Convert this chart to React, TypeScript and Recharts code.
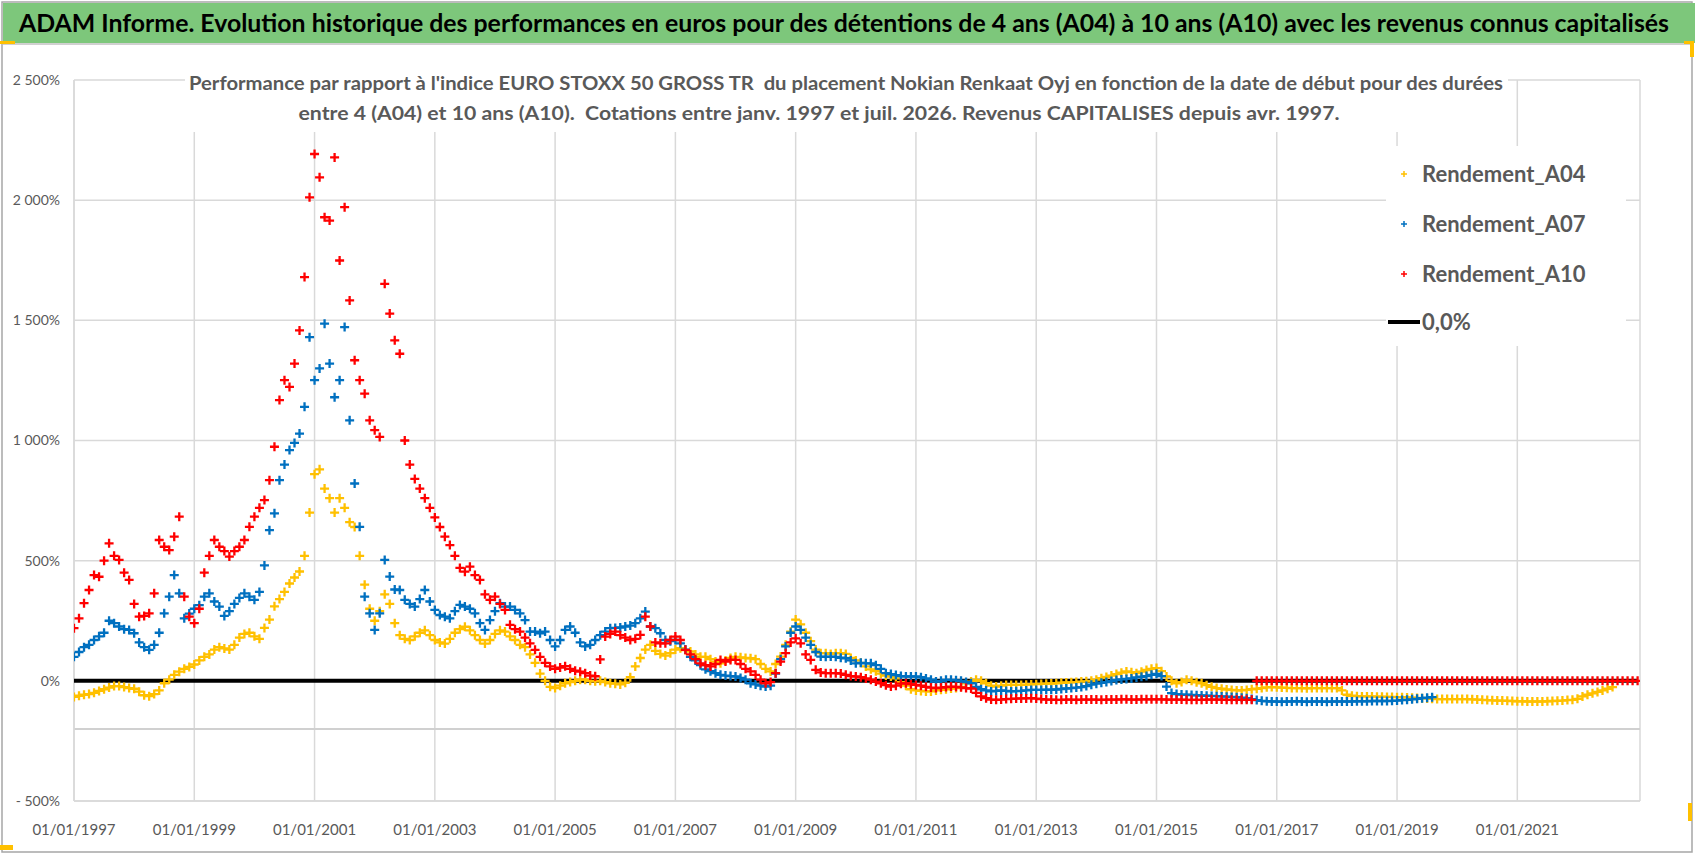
import { ScatterChart, Scatter, XAxis, YAxis, CartesianGrid, ReferenceLine } from 'recharts';

// monthly samples starting 01/1997, values in %
const START_YEAR = 1997;
const X_TICKS = [1997, 1999, 2001, 2003, 2005, 2007, 2009, 2011, 2013, 2015, 2017, 2019, 2021];
const Y_TICKS = [-500, 0, 500, 1000, 1500, 2000, 2500];

const A04 = [
  -67, -62, -58, -55, -50, -42, -35, -28, -22, -22, -26, -30, // 1997
  -33, -45, -60, -64, -55, -40, -10, 5, 25, 38, 50, 58,
  68, 85, 100, 110, 130, 140, 135, 130, 150, 180, 195, 200,
  185, 175, 220, 255, 310, 340, 370, 405, 430, 455, 520, 700, // 2000
  860, 880, 800, 760, 700, 760, 720, 660, 640, 520, 400, 300,
  250, 290, 360, 320, 240, 190, 175, 170, 185, 200, 210, 190,
  170, 160, 155, 175, 200, 215, 225, 210, 190, 170, 155, 170,
  195, 210, 205, 185, 170, 150, 140, 110, 75, 30, 0, -25,
  -30, -20, -10, -5, 0, 5, 5, 0, -2, 0, -5, -10, // 2005
  -12, -15, -8, 15, 60, 95, 130, 150, 125, 112, 105, 115,
  130, 136, 128, 122, 110, 100, 100, 90, 80, 73, 85, 95,
  100, 98, 95, 94, 90, 70, 50, 39, 70, 101, 150, 205,
  255, 235, 200, 165, 130, 115, 115, 112, 115, 115, 112, 95,
  85, 75, 60, 48, 40, 30, 22, 18, 10, -5, -20, -35, // 2010
  -40, -42, -44, -44, -40, -37, -35, -32, -30, -25, -10, -3,
  4, 0, -10, -20, -24, -20, -17, -17, -17, -17, -16, -15,
  -14, -13, -12, -11, -10, -8, -7, -6, -5, -3, -2, 0,
  5, 11, 16, 22, 28, 34, 39, 36, 32, 38, 45, 50,
  53, 40, 18, 0, -10, -5, 4, 0, -6, -10, -18, -25, // 2015
  -30, -33, -36, -38, -40, -40, -38, -35, -33, -30, -27, -26,
  -27, -28, -29, -30, -30, -30, -31, -30, -30, -30, -30, -30,
  -30, -40, -58, -62, -64, -65, -65, -65, -66, -66, -67, -67,
  -68, -68, -69, -70, -71, -72, -73, -75, -76, -76, -76, -76,
  -76, -76, -76, -77, -78, -79, -80, -81, -82, -82, -83, -84, // 2020
  -85, -85, -86, -86, -86, -86, -85, -84, -83, -82, -80, -79,
  -75, -65, -58, -52, -46, -40, -33, -26,
];

const A07 = [
  100, 120, 140, 150, 170, 185, 200, 250, 240, 226, 215, 212, // 1997
  198, 160, 140, 129, 150, 200, 281, 350, 440, 364, 260, 280,
  300, 315, 350, 364, 330, 309, 270, 290, 320, 345, 364, 350,
  337, 370, 480, 627, 697, 835, 900, 960, 990, 1029, 1140, 1430, // 2000
  1251, 1300, 1486, 1320, 1180, 1251, 1472, 1084, 821, 641, 350, 281,
  212, 281, 503, 434, 380, 378, 337, 320, 309, 340, 378, 330,
  295, 274, 267, 260, 290, 316, 309, 300, 281, 240, 212, 253,
  290, 323, 309, 309, 295, 281, 253, 205, 205, 198, 205, 170,
  143, 170, 212, 226, 200, 160, 143, 150, 170, 190, 205, 219, // 2005
  220, 222, 226, 230, 240, 260, 288, 226, 219, 198, 170, 165,
  170, 156, 130, 100, 85, 65, 48, 40, 32, 25, 22, 20,
  18, 12, 5, -10, -15, -20, -24, -20, 30, 90, 143, 200,
  226, 212, 180, 150, 120, 101, 100, 101, 100, 96, 94, 85,
  73, 75, 73, 73, 65, 50, 32, 28, 24, 20, 18, 18, // 2010
  18, 15, 10, 5, -3, 0, 4, 4, 2, 0, -5, -10,
  -25, -35, -40, -44, -42, -40, -42, -44, -43, -42, -40, -38,
  -38, -38, -37, -37, -36, -34, -32, -30, -28, -26, -22, -16,
  -12, -8, -5, -1, 3, 6, 8, 10, 14, 17, 20, 25,
  29, 20, -24, -51, -55, -57, -58, -59, -60, -61, -62, -63, // 2015
  -64, -65, -66, -67, -68, -70, -72, -76, -80, -83, -85, -86,
  -86, -87, -86, -86, -85, -86, -87, -86, -86, -86, -87, -86,
  -86, -86, -86, -86, -85, -85, -85, -84, -84, -84, -84, -83,
  -82, -80, -79, -77, -75, -72, -70, -68,
];

const A10 = [
  219, 260, 323, 378, 440, 433, 500, 572, 520, 503, 450, 420, // 1997
  320, 267, 270, 281, 364, 586, 558, 544, 600, 683, 350, 267,
  240, 300, 450, 520, 586, 558, 540, 517, 540, 558, 586, 641,
  683, 720, 752, 835, 974, 1168, 1251, 1223, 1320, 1458, 1680, 2012, // 2000
  2192, 2095, 1929, 1915, 2178, 1749, 1971, 1583, 1334, 1251, 1195, 1084,
  1043, 1015, 1652, 1528, 1417, 1361, 1000, 900, 840, 800, 760, 720,
  680, 640, 600, 565, 520, 470, 454, 475, 440, 420, 360, 337,
  350, 320, 295, 233, 215, 205, 180, 156, 129, 100, 75, 60,
  50, 55, 61, 50, 42, 38, 32, 22, 19, 89, 184, 195, // 2005
  205, 190, 180, 170, 175, 191, 267, 226, 160, 156, 156, 170,
  184, 170, 129, 110, 90, 73, 65, 60, 70, 87, 80, 87,
  87, 70, 50, 39, 25, 5, -10, -5, 32, 80, 115, 160,
  177, 156, 110, 87, 46, 35, 32, 32, 32, 30, 25, 20,
  18, 15, 10, 5, -3, -10, -18, -24, -20, -12, -10, -14, // 2010
  -17, -20, -25, -28, -30, -28, -26, -24, -25, -27, -30, -32,
  -50, -65, -72, -78, -79, -78, -76, -75, -74, -73, -73, -72,
  -74, -76, -78, -78, -79, -79, -78, -78, -79, -78, -78, -78,
  -78, -79, -78, -78, -78, -77, -77, -78, -78, -77, -77, -77,
  -77, -77, -78, -78, -78, -78, -79, -79, -79, -79, -78, -78, // 2015
  -78, -78, -79, -79, -79, -79, -79, -79, 0, 0, 0, 0,
  0, 0, 0, 0, 0, 0, 0, 0, 0, 0, 0, 0,
  0, 0, 0, 0, 0, 0, 0, 0, 0, 0, 0, 0,
  0, 0, 0, 0, 0, 0, 0, 0, 0, 0, 0, 0,
  0, 0, 0, 0, 0, 0, 0, 0, 0, 0, 0, 0, // 2020
  0, 0, 0, 0, 0, 0, 0, 0, 0, 0, 0, 0,
  0, 0, 0, 0, 0, 0, 0, 0, 0, 0, 0, 0,
  0,
];

const ZERO_SERIES = [
  { x: 1997, y: 0 },
  { x: 2023, y: 0 },
];

const SERIES = [
  { name: 'Rendement_A04', values: A04, color: '#FFC000' },
  { name: 'Rendement_A07', values: A07, color: '#0070C0' },
  { name: 'Rendement_A10', values: A10, color: '#FF0000' },
];

const toPoints = (values: number[]) => values.map((y, i) => ({ x: START_YEAR + i / 12, y }));

const fmtPct = (v: number) => {
  const s = Math.abs(v).toString().replace(/\B(?=(\d{3})+(?!\d))/g, ' ');
  return v < 0 ? `- ${s}%` : `${s}%`;
};

const plus = (color: string) => (props: any) => {
  const { cx, cy } = props;
  if (cx == null || cy == null) return <g />;
  return (
    <path
      d={`M${cx - 4.5},${cy}H${cx + 4.5}M${cx},${cy - 4.5}V${cy + 4.5}`}
      stroke={color}
      strokeWidth={2.3}
      fill="none"
    />
  );
};

const FONT = 'Lato, "Open Sans", sans-serif';
const GREY = '#595959';

export default function App() {
  return (
    <div style={{ position: 'absolute', left: 0, top: 0, width: 1698, height: 856, background: '#fff', overflow: 'hidden' }}>
      <svg width={1698} height={856} style={{ position: 'absolute', left: 0, top: 0 }}>
        <rect x={2} y={2} width={1690} height={850} fill="#fff" stroke="#A6A6A6" strokeWidth={1.5} />
        <rect x={3} y={3} width={1692} height={40} fill="#7DC77B" />
        <line x1={3} y1={44} x2={1692} y2={44} stroke="#D0D0D0" strokeWidth={2} />
        <rect x={0} y={41} width={15} height={3} fill="#FFC000" />
        <rect x={1684} y={41} width={10} height={3} fill="#FFC000" />
        <rect x={1690} y={41} width={4} height={16} fill="#FFC000" />
        <rect x={0} y={845} width={13} height={5} fill="#FFC000" />
        <rect x={1688} y={803} width={4} height={18} fill="#FFC000" />
      </svg>

      <div style={{ position: 'absolute', left: 0, top: 0 }}>
        <ScatterChart width={1698} height={856} margin={{ top: 80, right: 58, bottom: 15, left: 0 }}>
          <CartesianGrid stroke="#D9D9D9" strokeWidth={1.5} />
          <XAxis
            type="number"
            dataKey="x"
            domain={[1997, 2023.04]}
            ticks={X_TICKS}
            tickFormatter={(v) => `01/01/${v}`}
            allowDataOverflow
            height={40}
            tickLine={false}
            tickMargin={17}
            axisLine={{ stroke: '#D9D9D9', strokeWidth: 1.5 }}
            tick={{ fill: GREY, fontSize: 15, fontFamily: FONT }}
            interval={0}
          />
          <YAxis
            type="number"
            dataKey="y"
            domain={[-500, 2500]}
            ticks={Y_TICKS}
            tickFormatter={fmtPct}
            width={74}
            tickLine={false}
            tickMargin={8}
            axisLine={{ stroke: '#D9D9D9', strokeWidth: 1.5 }}
            tick={{ fill: GREY, fontSize: 14, fontFamily: FONT }}
            interval={0}
          />
          <ReferenceLine y={-200} stroke="#D0D0D0" strokeWidth={2} />
          <Scatter
            name="0,0%"
            data={ZERO_SERIES}
            line={{ stroke: '#000', strokeWidth: 4 }}
            shape={() => <g />}
            isAnimationActive={false}
          />
          {SERIES.map((s) => (
            <Scatter
              key={s.name}
              name={s.name}
              data={toPoints(s.values)}
              fill={s.color}
              shape={plus(s.color)}
              isAnimationActive={false}
            />
          ))}
        </ScatterChart>
      </div>

      <svg width={1698} height={856} style={{ position: 'absolute', left: 0, top: 0, pointerEvents: 'none' }}>
        <text x={844} y={32} textAnchor="middle" fontFamily={FONT} fontWeight={700} fontSize={25} fill="#000" textLength={1650} lengthAdjust="spacingAndGlyphs">
          ADAM Informe. Evolution historique des performances en euros pour des détentions de 4 ans (A04) à 10 ans (A10) avec les revenus connus capitalisés
        </text>

        <rect x={185} y={64} width={1323} height={68} fill="#fff" />
        <text x={846} y={90} textAnchor="middle" fontFamily={FONT} fontWeight={700} fontSize={19} fill={GREY} textLength={1314} lengthAdjust="spacingAndGlyphs" style={{ whiteSpace: 'pre' }}>
          {"Performance par rapport à l'indice EURO STOXX 50 GROSS TR  du placement Nokian Renkaat Oyj en fonction de la date de début pour des durées"}
        </text>
        <text x={819} y={120} textAnchor="middle" fontFamily={FONT} fontWeight={700} fontSize={19} fill={GREY} textLength={1041} lengthAdjust="spacingAndGlyphs" style={{ whiteSpace: 'pre' }}>
          {'entre 4 (A04) et 10 ans (A10).  Cotations entre janv. 1997 et juil. 2026. Revenus CAPITALISES depuis avr. 1997.'}
        </text>

        <rect x={1386} y={146} width={240} height={200} fill="#fff" />
        {SERIES.map((s, i) => {
          const y = 174 + i * 50;
          return (
            <g key={s.name}>
              <path d={`M${1404 - 3},${y}H${1404 + 3}M1404,${y - 3}V${y + 3}`} stroke={s.color} strokeWidth={1.5} />
              <text x={1422} y={y + 8} fontFamily={FONT} fontWeight={700} fontSize={22} fill={GREY}>
                {s.name}
              </text>
            </g>
          );
        })}
        <line x1={1388} y1={322} x2={1420} y2={322} stroke="#000" strokeWidth={4} />
        <text x={1422} y={330} fontFamily={FONT} fontWeight={700} fontSize={22} fill={GREY}>
          0,0%
        </text>
      </svg>
    </div>
  );
}
